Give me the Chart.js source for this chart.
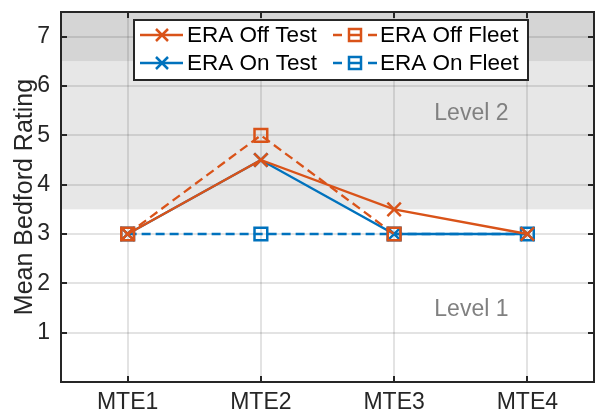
<!DOCTYPE html>
<html>
<head>
<meta charset="utf-8">
<script src="https://cdn.jsdelivr.net/npm/chart.js@4/dist/chart.umd.min.js"></script>
<style>
  html, body { margin: 0; padding: 0; background: #ffffff; }
  #wrap { width: 606px; height: 414px; }
</style>
</head>
<body>
<div id="wrap"><canvas id="c" width="606" height="414"></canvas></div>
<script>
// ---- data ----
const categories = ['MTE1', 'MTE2', 'MTE3', 'MTE4'];
const eraOffTest  = [3, 4.5, 3.5, 3];
const eraOffFleet = [3, 5, 3, null];
const eraOnTest   = [3, 4.5, 3, 3];
const eraOnFleet  = [3, 3, 3, 3];
const seriesNames = ['ERA Off Test', 'ERA Off Fleet', 'ERA On Test', 'ERA On Fleet'];
const yTicks = [1, 2, 3, 4, 5, 6, 7];
const yTitle = 'Mean Bedford Rating';
const bandFrom = [3.5, 6.5];
const bandTo   = [6.5, 7.5];
const levelLabels = ['Level 1', 'Level 2'];
const levelX = [3.58, 3.58];
const levelY = [1.47, 5.43];

// ---- style ----
const FONT = '"Liberation Sans", Arial, Helvetica, sans-serif';
const ORANGE = '#D95319';
const BLUE = '#0072BD';
const AXIS = '#262626';
const GRID = 'rgba(38,38,38,0.13)';
const bandColors = ['#e7e7e7', '#d5d5d5'];
const FS = 23;

const bgPlugin = {
  id: 'bg',
  beforeDraw(chart) {
    const { ctx, chartArea: a, scales: { y } } = chart;
    ctx.save();
    ctx.fillStyle = '#ffffff';
    ctx.fillRect(a.left, a.top, a.right - a.left, a.bottom - a.top);
    for (let i = 0; i < bandFrom.length; i++) {
      const y0 = y.getPixelForValue(bandFrom[i]);
      const y1 = y.getPixelForValue(bandTo[i]);
      ctx.fillStyle = bandColors[i];
      ctx.fillRect(a.left, y1, a.right - a.left, y0 - y1);
    }
    ctx.restore();
  },
  beforeDatasetsDraw(chart) {
    const { ctx, scales: { x, y } } = chart;
    ctx.save();
    ctx.font = FS + 'px ' + FONT;
    ctx.fillStyle = '#808080';
    ctx.textAlign = 'center';
    ctx.textBaseline = 'middle';
    for (let i = 0; i < levelLabels.length; i++) {
      const px = x.getPixelForValue(levelX[i] - 1);
      const py = y.getPixelForValue(levelY[i]);
      ctx.fillText(levelLabels[i], px, py);
    }
    ctx.restore();
  },
  afterDraw(chart) {
    const { ctx, chartArea: a, scales: { x, y } } = chart;
    ctx.save();
    ctx.strokeStyle = AXIS;
    ctx.lineWidth = 2;
    // top & right box lines
    ctx.beginPath();
    ctx.moveTo(a.left - 1, a.top);
    ctx.lineTo(a.right, a.top);
    ctx.lineTo(a.right, a.bottom + 1);
    ctx.stroke();
    // inward ticks
    const TL = 6;
    ctx.beginPath();
    yTicks.forEach(v => {
      const py = Math.round(y.getPixelForValue(v));
      ctx.moveTo(a.left, py); ctx.lineTo(a.left + TL, py);
      ctx.moveTo(a.right, py); ctx.lineTo(a.right - TL, py);
    });
    categories.forEach((c, i) => {
      const px = Math.round(x.getPixelForValue(i));
      ctx.moveTo(px, a.bottom); ctx.lineTo(px, a.bottom - TL);
      ctx.moveTo(px, a.top); ctx.lineTo(px, a.top + TL);
    });
    ctx.stroke();

    // legend
    const bx = 134, by = 20, bw = 394, bh = 60;
    ctx.fillStyle = '#ffffff';
    ctx.fillRect(bx, by, bw, bh);
    ctx.lineWidth = 2;
    ctx.strokeStyle = AXIS;
    ctx.strokeRect(bx, by, bw, bh);
    const rows = [35, 63];
    const items = [
      { name: seriesNames[0], color: ORANGE, dash: false, col: 0, row: 0 },
      { name: seriesNames[1], color: ORANGE, dash: true,  col: 1, row: 0 },
      { name: seriesNames[2], color: BLUE,   dash: false, col: 0, row: 1 },
      { name: seriesNames[3], color: BLUE,   dash: true,  col: 1, row: 1 },
    ];
    const cols = [{ l0: 140, l1: 183, m: 162, t: 187 }, { l0: 333, l1: 377, m: 355, t: 380 }];
    ctx.font = '22.5px ' + FONT;
    ctx.textBaseline = 'middle';
    ctx.textAlign = 'left';
    items.forEach(it => {
      const c = cols[it.col], yy = rows[it.row];
      ctx.strokeStyle = it.color;
      ctx.lineWidth = 2.3;
      ctx.beginPath();
      if (it.dash) {
        ctx.moveTo(c.l0, yy); ctx.lineTo(c.l0 + 9, yy);
        ctx.moveTo(c.m - 6, yy); ctx.lineTo(c.m + 6, yy);
        ctx.moveTo(c.l1 - 9, yy); ctx.lineTo(c.l1, yy);
      } else {
        ctx.moveTo(c.l0, yy); ctx.lineTo(c.l1, yy);
      }
      ctx.stroke();
      ctx.lineWidth = 2.5;
      ctx.beginPath();
      if (it.dash) {
        ctx.rect(c.m - 6, yy - 6, 12, 12);
      } else {
        ctx.moveTo(c.m - 6, yy - 6); ctx.lineTo(c.m + 6, yy + 6);
        ctx.moveTo(c.m - 6, yy + 6); ctx.lineTo(c.m + 6, yy - 6);
      }
      ctx.stroke();
      ctx.fillStyle = '#000000';
      ctx.fillText(it.name, c.t, yy + 1);
    });
    ctx.restore();
  }
};

function ds(label, data, color, dashed, order) {
  return {
    label, data, order,
    borderColor: color,
    backgroundColor: 'rgba(0,0,0,0)',
    borderWidth: 2.3,
    borderDash: dashed ? [9, 5] : [],
    pointStyle: dashed ? 'rect' : 'crossRot',
    pointRadius: dashed ? 9 : 9.5,
    pointHoverRadius: dashed ? 9 : 9.5,
    pointBorderWidth: 2.5,
    pointBorderColor: color,
    pointBackgroundColor: 'rgba(0,0,0,0)',
    tension: 0,
    spanGaps: false,
    fill: false
  };
}

new Chart(document.getElementById('c'), {
  type: 'line',
  data: {
    labels: categories,
    datasets: [
      ds(seriesNames[0], eraOffTest, ORANGE, false, 1),
      ds(seriesNames[1], eraOffFleet, ORANGE, true, 0),
      ds(seriesNames[2], eraOnTest, BLUE, false, 3),
      ds(seriesNames[3], eraOnFleet, BLUE, true, 2)
    ]
  },
  options: {
    responsive: false,
    animation: false,
    events: [],
    devicePixelRatio: 1,
    layout: { padding: { top: 8, right: 3, left: 0, bottom: 0 } },
    plugins: { legend: { display: false }, tooltip: { enabled: false } },
    scales: {
      x: {
        type: 'category',
        offset: true,
        grid: { offset: false, color: GRID, lineWidth: 2, drawTicks: false },
        border: { display: true, color: AXIS, width: 2 },
        ticks: { font: { size: FS, family: FONT }, color: AXIS, padding: 7, maxRotation: 0, autoSkip: false },
        afterFit: s => { s.height = 32; s.paddingLeft = 0; s.paddingRight = 0; }
      },
      y: {
        min: 0, max: 7.5,
        afterBuildTicks: s => { s.ticks = yTicks.map(v => ({ value: v })); },
        grid: { color: GRID, lineWidth: 2, drawTicks: false },
        border: { display: true, color: AXIS, width: 2 },
        ticks: { font: { size: FS, family: FONT }, color: AXIS, padding: 11 },
        title: { display: true, text: yTitle, font: { size: 25, family: FONT }, color: AXIS, padding: { top: 10, bottom: 0 } },
        afterFit: s => { s.width = 61; s.paddingTop = 0; s.paddingBottom = 0; }
      }
    }
  },
  plugins: [bgPlugin]
});
</script>
</body>
</html>
